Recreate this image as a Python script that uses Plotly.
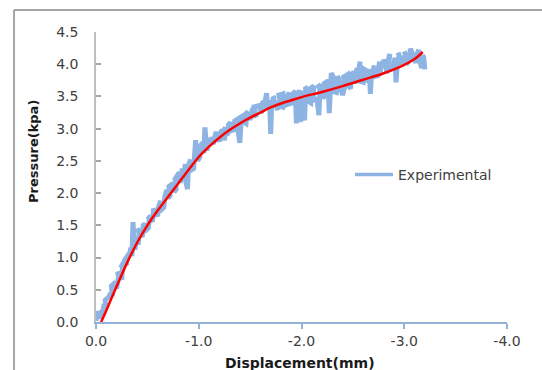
import plotly.graph_objects as go

# Experimental pressure–displacement record (displacement is negative, mm; pressure in kPa)
exp_disp = [
    0.00, -0.01, -0.02, -0.04, -0.03, -0.07, -0.08, -0.10, -0.09, -0.13,
    -0.14, -0.16, -0.15, -0.19, -0.20, -0.22, -0.21, -0.25, -0.26, -0.24,
    -0.29, -0.30, -0.28, -0.33, -0.34, -0.35, -0.36, -0.37, -0.38, -0.39,
    -0.41, -0.42, -0.40, -0.45, -0.46, -0.48, -0.47, -0.51, -0.52, -0.50,
    -0.55, -0.57, -0.56, -0.60, -0.61, -0.63, -0.62, -0.66, -0.67, -0.69,
    -0.70, -0.72, -0.71, -0.75, -0.76, -0.78, -0.77, -0.81, -0.82, -0.84,
    -0.85, -0.87, -0.86, -0.89, -0.90, -0.92, -0.91, -0.95, -0.96, -0.97,
    -0.98, -0.99, -1.01, -1.00, -1.04, -1.05, -1.06, -1.07, -1.08, -1.10,
    -1.11, -1.13, -1.14, -1.16, -1.17, -1.19, -1.20, -1.22, -1.23, -1.25,
    -1.26, -1.24, -1.28, -1.29, -1.31, -1.30, -1.34, -1.35, -1.37, -1.38,
    -1.40, -1.41, -1.39, -1.43, -1.44, -1.46, -1.47, -1.45, -1.50, -1.52,
    -1.53, -1.55, -1.56, -1.54, -1.59, -1.61, -1.62, -1.64, -1.63, -1.66,
    -1.67, -1.69, -1.70, -1.71, -1.73, -1.72, -1.76, -1.77, -1.79, -1.78,
    -1.82, -1.83, -1.81, -1.86, -1.88, -1.87, -1.91, -1.92, -1.94, -1.95,
    -1.96, -1.98, -1.99, -2.00, -1.97, -2.03, -2.04, -2.06, -2.05, -2.09,
    -2.10, -2.12, -2.11, -2.15, -2.17, -2.18, -2.16, -2.21, -2.23, -2.22,
    -2.26, -2.27, -2.28, -2.29, -2.31, -2.30, -2.34, -2.36, -2.35, -2.39,
    -2.40, -2.42, -2.41, -2.45, -2.46, -2.48, -2.47, -2.51, -2.52, -2.54,
    -2.55, -2.57, -2.56, -2.60, -2.61, -2.63, -2.62, -2.66, -2.67, -2.68,
    -2.70, -2.71, -2.69, -2.74, -2.76, -2.77, -2.75, -2.80, -2.82, -2.83,
    -2.85, -2.86, -2.84, -2.89, -2.91, -2.92, -2.93, -2.95, -2.94, -2.98,
    -2.99, -3.01, -3.00, -3.04, -3.05, -3.07, -3.06, -3.10, -3.11, -3.13,
    -3.14, -3.16, -3.17, -3.18, -3.19, -3.20,
]
exp_pressure = [
    0.02, 0.10, 0.16, 0.12, 0.05, 0.20, 0.28, 0.22, 0.34, 0.40,
    0.45, 0.40, 0.56, 0.62, 0.52, 0.70, 0.78, 0.66, 0.90, 0.84,
    0.98, 0.88, 0.96, 1.08, 1.15, 1.02, 1.55, 1.22, 1.12, 1.30,
    1.20, 1.38, 1.45, 1.32, 1.50, 1.52, 1.40, 1.46, 1.62, 1.64,
    1.56, 1.74, 1.76, 1.64, 1.80, 1.88, 1.72, 1.78, 1.95, 2.05,
    1.92, 1.96, 2.10, 2.15, 2.02, 2.06, 2.22, 2.32, 2.16, 2.38,
    2.25, 2.45, 2.30, 2.06, 2.44, 2.52, 2.34, 2.38, 2.58, 2.82,
    2.62, 2.50, 2.56, 2.70, 2.78, 2.62, 3.02, 2.80, 2.66, 2.85,
    2.80, 2.86, 2.76, 2.90, 2.95, 2.84, 2.80, 2.96, 2.98, 2.82,
    3.02, 2.95, 2.90, 3.06, 3.10, 2.96, 2.98, 3.12, 3.14, 3.00,
    2.78, 3.05, 3.16, 3.20, 3.10, 3.08, 3.24, 3.26, 3.14, 3.28,
    3.32, 3.20, 3.18, 3.34, 3.36, 3.24, 3.40, 3.42, 3.28, 3.55,
    3.30, 3.44, 2.92, 3.40, 3.48, 3.50, 3.32, 3.30, 3.46, 3.52,
    3.54, 3.36, 3.30, 3.52, 3.56, 3.38, 3.40, 3.55, 3.58, 3.08,
    3.44, 3.60, 3.10, 3.58, 3.42, 3.13, 3.62, 3.64, 3.44, 3.40,
    3.64, 3.66, 3.44, 3.46, 3.21, 3.66, 3.68, 3.50, 3.48, 3.70,
    3.74, 3.24, 3.56, 3.86, 3.80, 3.58, 3.56, 3.78, 3.82, 3.62,
    3.52, 3.64, 3.80, 3.84, 3.66, 3.62, 3.82, 3.88, 3.70, 3.94,
    3.86, 4.04, 3.74, 3.72, 3.92, 3.90, 3.72, 3.92, 3.54, 3.82,
    3.96, 3.98, 3.80, 3.82, 4.04, 3.86, 3.84, 4.06, 4.02, 3.86,
    4.10, 4.16, 3.90, 3.94, 4.10, 3.72, 3.96, 4.14, 4.18, 4.00,
    4.02, 4.16, 4.20, 4.04, 4.06, 4.22, 4.24, 4.08, 4.02, 4.18,
    4.22, 4.00, 3.94, 4.14, 4.10, 3.92,
]

# Fitted trend curve
fit_disp = [-0.05, -0.10, -0.20, -0.30, -0.40, -0.50, -0.60, -0.70, -0.80, -0.90,
            -1.00, -1.10, -1.20, -1.30, -1.40, -1.50, -1.60, -1.70, -1.80, -1.90,
            -2.00, -2.20, -2.40, -2.60, -2.80, -3.00, -3.10, -3.18]
fit_pressure = [0.00, 0.18, 0.55, 0.91, 1.23, 1.50, 1.73, 1.94, 2.15, 2.36,
                2.56, 2.72, 2.86, 2.98, 3.08, 3.17, 3.25, 3.33, 3.39, 3.44,
                3.49, 3.57, 3.66, 3.76, 3.86, 3.99, 4.08, 4.19]

x_ticks = [0, -1, -2, -3, -4]
x_tick_text = ["0.0", "-1.0", "-2.0", "-3.0", "-4.0"]

FONT = "DejaVu Sans"
BLUE = "#8EB4E3"
W, H = 542, 370
ML, MR, MT, MB = 96, 35, 32, 48
PW, PH = W - ML - MR, H - MT - MB


def px_x(p):
    return (p - ML) / PW


def px_y(p):
    return (H - MB - p) / PH


fig = go.Figure()
fig.add_trace(go.Scatter(
    x=exp_disp, y=exp_pressure, mode="lines", name="Experimental",
    legendgroup="exp", showlegend=False,
    line=dict(color=BLUE, width=5),
))
# legend entry with a slimmer line sample
fig.add_trace(go.Scatter(
    x=[None], y=[None], mode="lines", name="Experimental",
    legendgroup="exp", showlegend=True,
    line=dict(color=BLUE, width=3.5),
))
fig.add_trace(go.Scatter(
    x=fit_disp, y=fit_pressure, mode="lines", showlegend=False,
    line=dict(color="#FF0000", width=2.5, shape="spline"),
))

# outer chart frame (top and left edges)
frame = dict(color="#8A8A8A", width=1.5)
fig.add_shape(type="line", xref="paper", yref="paper",
              x0=px_x(14), x1=px_x(W + 5), y0=px_y(10), y1=px_y(10), line=frame)
fig.add_shape(type="line", xref="paper", yref="paper",
              x0=px_x(14), x1=px_x(14), y0=px_y(10), y1=px_y(H + 5), line=frame)

fig.add_annotation(text="<b>Pressure(kpa)</b>", xref="paper", yref="paper",
                   x=px_x(33), y=px_y(152), xanchor="center", yanchor="middle",
                   textangle=-90, showarrow=False,
                   font=dict(family=FONT, size=13, color="#1A1A1A"))
fig.add_annotation(text="<b>Displacement(mm)</b>", xref="paper", yref="paper",
                   x=px_x(300), y=px_y(363), xanchor="center", yanchor="middle",
                   showarrow=False,
                   font=dict(family=FONT, size=14, color="#1A1A1A"))

fig.update_layout(
    width=W, height=H,
    margin=dict(l=ML, r=MR, t=MT, b=MB),
    paper_bgcolor="white", plot_bgcolor="white",
    font=dict(family=FONT, size=14, color="#404040"),
    showlegend=True,
    legend=dict(x=px_x(350), y=px_y(175), xanchor="left", yanchor="middle",
                bgcolor="rgba(0,0,0,0)", itemwidth=38,
                font=dict(family=FONT, size=14, color="#404040")),
    xaxis=dict(range=[0, -4], tickvals=x_ticks, ticktext=x_tick_text,
               showgrid=False, zeroline=False, showline=True,
               linecolor="#95B3D7", linewidth=1.5,
               ticks="outside", ticklen=5, tickcolor="#95B3D7", tickwidth=1.5),
    yaxis=dict(range=[0, 4.5], dtick=0.5, tickformat=".1f",
               showgrid=False, zeroline=False, showline=True,
               linecolor="#BFBFBF", linewidth=1.5,
               ticks="inside", ticklen=5, tickcolor="#A6A6A6", tickwidth=1.5,
               ticklabelstandoff=13),
)

fig.write_html("out.html")
